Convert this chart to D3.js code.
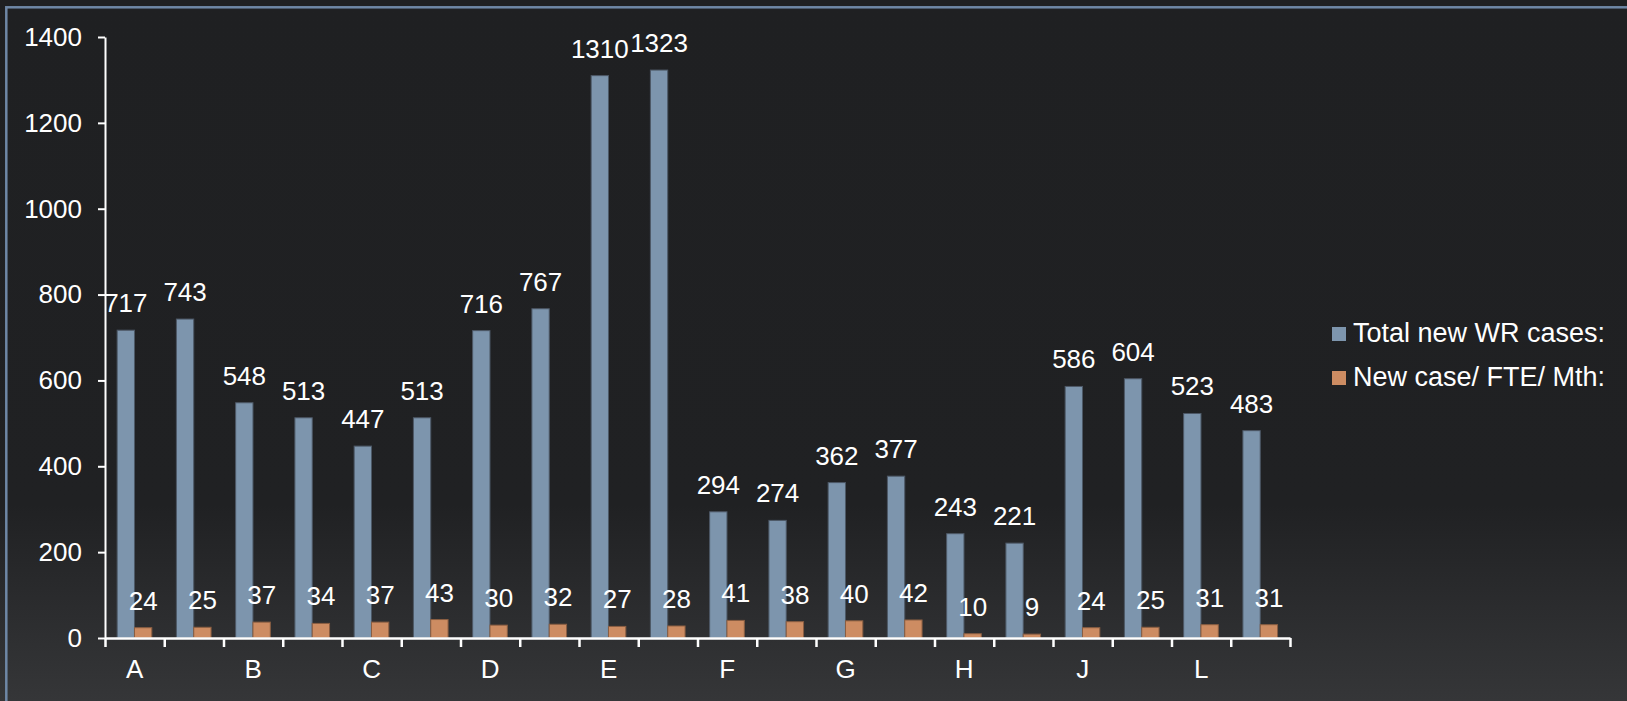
<!doctype html>
<html>
<head>
<meta charset="utf-8">
<style>
    html, body { margin: 0; padding: 0; background: #1f2022; }
    svg { display: block; }
    text { font-family: "Liberation Sans", Arial, sans-serif; fill: #ffffff; }
</style>
</head>
<body>
<div id="container"></div>
<script src="https://cdnjs.cloudflare.com/ajax/libs/d3/7.8.5/d3.min.js"></script>
<script type="text/javascript">

    // chart data
    var categories = ["A", "", "B", "", "C", "", "D", "", "E", "", "F", "", "G", "", "H", "", "J", "", "L", ""];
    var totalCases = [717, 743, 548, 513, 447, 513, 716, 767, 1310, 1323, 294, 274, 362, 377, 243, 221, 586, 604, 523, 483];
    var casePerFte = [24, 25, 37, 34, 37, 43, 30, 32, 27, 28, 41, 38, 40, 42, 10, 9, 24, 25, 31, 31];
    var seriesNames = ["Total new WR cases:", "New case/ FTE/ Mth:"];
    var yTicks = [0, 200, 400, 600, 800, 1000, 1200, 1400];

    var width = 1627, height = 701;
    var margin = {top: 37, left: 105, right: 337, bottom: 63};
    var colors = ["#7d95ad", "#cd8c62"];
    var strokes = ["#4d5866", "#8a5e42"];
    var fontSize = "26px";

    var svg = d3.select("#container").append("svg")
        .attr("width", width)
        .attr("height", height);

    var defs = svg.append("defs");
    var grad = defs.append("linearGradient")
        .attr("id", "bg")
        .attr("x1", 0).attr("y1", 0).attr("x2", 0).attr("y2", 1);
    grad.append("stop").attr("offset", "0").attr("stop-color", "#1f2022");
    grad.append("stop").attr("offset", "0.72").attr("stop-color", "#202123");
    grad.append("stop").attr("offset", "1").attr("stop-color", "#353638");

    svg.append("rect")
        .attr("width", width)
        .attr("height", height)
        .attr("fill", "url(#bg)");

    // frame
    svg.append("rect")
        .attr("x", 6.3)
        .attr("y", 7.3)
        .attr("width", width + 20)
        .attr("height", height + 20)
        .attr("fill", "none")
        .attr("stroke", "#6e87a6")
        .attr("stroke-width", 2.5);

    var x0 = d3.scaleBand()
        .domain(d3.range(categories.length))
        .range([margin.left, width - margin.right])
        .padding(0);

    var x1 = d3.scaleBand()
        .domain([0, 1])
        .range([x0.bandwidth() * 0.205, x0.bandwidth() * 0.79]);

    var y = d3.scaleLinear()
        .domain([0, 1400])
        .range([height - margin.bottom, margin.top]);

    var xEdges = d3.scaleLinear()
        .domain([0, categories.length])
        .range([margin.left, width - margin.right]);

    var rows = categories.map(function (c, i) {
        return {i: i, values: [totalCases[i], casePerFte[i]]};
    });

    var groups = svg.selectAll(".group")
        .data(rows)
        .enter().append("g")
        .attr("class", "group")
        .attr("transform", function (d) {
            return "translate(" + x0(d.i) + ",0)";
        });

    groups.selectAll("rect")
        .data(function (d) { return d.values; })
        .enter().append("rect")
        .attr("x", function (d, k) { return x1(k); })
        .attr("y", function (d) { return y(d); })
        .attr("width", x1.bandwidth())
        .attr("height", function (d) { return y(0) - y(d); })
        .attr("fill", function (d, k) { return colors[k]; })
        .attr("stroke", function (d, k) { return strokes[k]; })
        .attr("stroke-width", 1);

    groups.selectAll("text.val")
        .data(function (d) { return d.values; })
        .enter().append("text")
        .attr("class", "val")
        .attr("x", function (d, k) { return x1(k) + x1.bandwidth() / 2; })
        .attr("y", function (d) { return y(d) - 18; })
        .attr("text-anchor", "middle")
        .style("font-size", fontSize)
        .text(function (d) { return d; });

    // y axis
    var yAxis = svg.append("g")
        .attr("transform", "translate(" + margin.left + ",0)")
        .call(d3.axisLeft(y).tickValues(yTicks).tickFormat(d3.format("d"))
            .tickSize(7).tickSizeOuter(0).tickPadding(16));
    yAxis.selectAll("path, line").attr("stroke", "#ffffff").attr("stroke-width", 2);
    yAxis.selectAll("text")
        .style("font-size", fontSize)
        .style("font-family", "'Liberation Sans', Arial, sans-serif")
        .attr("fill", "#ffffff");

    // x axis ticks at category edges
    var xAxis = svg.append("g")
        .attr("transform", "translate(0," + y(0) + ")")
        .call(d3.axisBottom(xEdges).tickValues(d3.range(categories.length + 1)).tickSize(9).tickSizeOuter(0).tickFormat(""));
    xAxis.selectAll("path, line").attr("stroke", "#ffffff").attr("stroke-width", 2.5);

    // x category labels
    var xLabels = svg.append("g")
        .attr("transform", "translate(0," + y(0) + ")")
        .call(d3.axisBottom(x0).tickSize(0).tickPadding(22).tickFormat(function (i) { return categories[i]; }));
    xLabels.select(".domain").remove();
    xLabels.selectAll("text")
        .style("font-size", fontSize)
        .style("font-family", "'Liberation Sans', Arial, sans-serif")
        .attr("fill", "#ffffff");

    // legend
    var legend = svg.selectAll(".legend")
        .data(seriesNames)
        .enter().append("g")
        .attr("class", "legend")
        .attr("transform", function (d, i) {
            return "translate(1332," + (327 + i * 44) + ")";
        });

    legend.append("rect")
        .attr("width", 14)
        .attr("height", 14)
        .attr("fill", function (d, i) { return colors[i]; });

    legend.append("text")
        .attr("x", 21)
        .attr("y", 15)
        .style("font-size", "27px")
        .text(function (d) { return d; });

</script>
</body>
</html>
